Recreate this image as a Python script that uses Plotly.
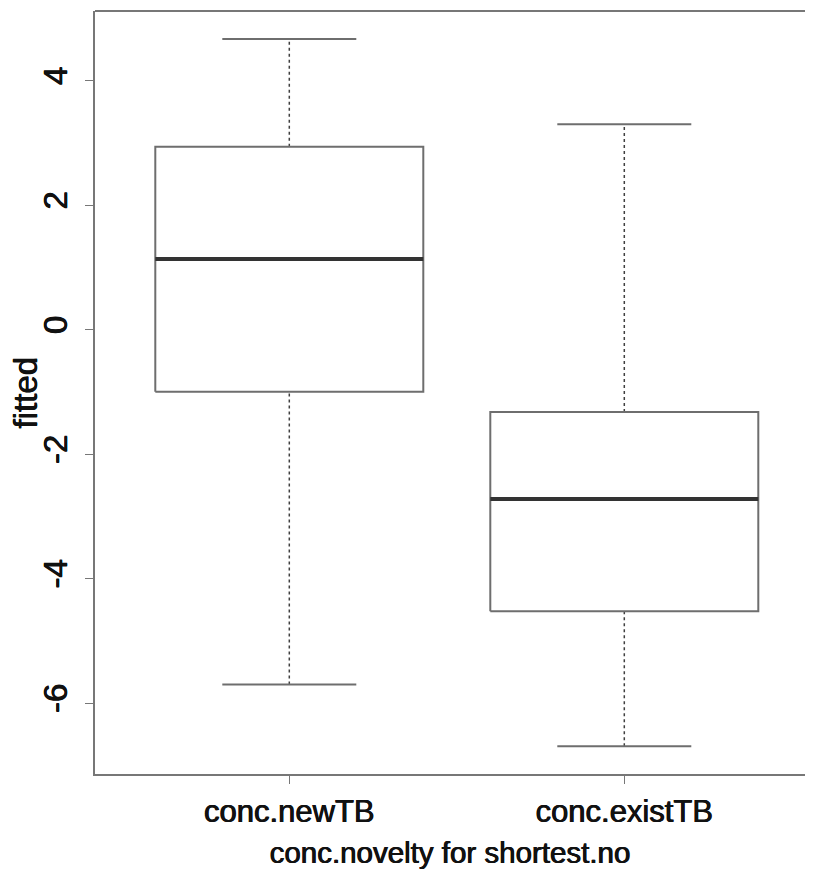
import plotly.graph_objects as go

categories = ["conc.newTB", "conc.existTB"]
lower_whisker = [-5.70, -6.69]
q1 = [-0.996, -4.52]
median = [1.135, -2.72]
q3 = [2.94, -1.32]
upper_whisker = [4.67, 3.30]
y_ticks = [-6, -4, -2, 0, 2, 4]

BOX_HALF = 0.4
CAP_HALF = 0.2
box_col = "#6e6e6e"
txt_col = "#111111"

fig = go.Figure()
for i, name in enumerate(categories):
    x = i + 1
    # whiskers (dashed)
    for a, b in [(q3[i], upper_whisker[i]), (lower_whisker[i], q1[i])]:
        fig.add_trace(go.Scatter(x=[x, x], y=[a, b], mode="lines",
                                 line=dict(color="#404040", width=1.5, dash="3px,3px"),
                                 showlegend=False, hoverinfo="skip"))
    # caps
    for v in (upper_whisker[i], lower_whisker[i]):
        fig.add_trace(go.Scatter(x=[x - CAP_HALF, x + CAP_HALF], y=[v, v], mode="lines",
                                 line=dict(color=box_col, width=2),
                                 showlegend=False, hoverinfo="skip"))
    # box
    fig.add_trace(go.Scatter(x=[x - BOX_HALF, x + BOX_HALF, x + BOX_HALF, x - BOX_HALF, x - BOX_HALF],
                             y=[q1[i], q1[i], q3[i], q3[i], q1[i]], mode="lines",
                             line=dict(color=box_col, width=2),
                             showlegend=False, hoverinfo="skip"))
    # median
    fig.add_trace(go.Scatter(x=[x - BOX_HALF, x + BOX_HALF], y=[median[i], median[i]], mode="lines",
                             line=dict(color="#333333", width=4),
                             showlegend=False, hoverinfo="skip"))

fam = "Liberation Sans, Arial, sans-serif"
shadow = "0.45px 0 0 #111111, -0.45px 0 0 #111111"
xtick_font = dict(family=fam, size=31, color=txt_col, shadow=shadow)
xtitle_font = dict(family=fam, size=29.5, color=txt_col, shadow=shadow)
ytick_font = dict(family=fam, size=33, color=txt_col, shadow=shadow)
ytitle_font = dict(family=fam, size=33, color=txt_col, shadow=shadow)

W, H = 797, 861
L, T, B = 87, 3, 95
plot_w = W - L

fig.update_layout(
    template="none",
    width=W, height=H,
    margin=dict(l=L, r=0, t=T, b=B),
    plot_bgcolor="white", paper_bgcolor="white",
    font=xtick_font,
    xaxis=dict(range=[0.42, 0.42 + plot_w / 335], tickvals=[1, 2], ticktext=categories,
               showgrid=False, zeroline=False, showline=True, linecolor="#777777", linewidth=2,
               mirror=False, ticks="outside", ticklen=8, tickcolor="#777777", tickwidth=1,
               tickfont=xtick_font, ticklabelstandoff=1,
               title=dict(text="conc.novelty for shortest.no", font=xtitle_font, standoff=15)),
    yaxis=dict(range=[-7.136, 5.12], tickvals=y_ticks, ticktext=[str(t) for t in y_ticks],
               showgrid=False, zeroline=False, showline=True, linecolor="#777777", linewidth=2,
               mirror=False, ticks="outside", ticklen=8, tickcolor="#777777", tickwidth=1,
               tickangle=-90, tickfont=ytick_font, ticklabelstandoff=5),
    shapes=[dict(type="line", xref="paper", yref="paper", x0=0, x1=1.02, y0=1, y1=1,
                 line=dict(color="#777777", width=2))],
    annotations=[dict(text="fitted", xref="paper", yref="paper", x=0, y=0.5,
                      xshift=-70, xanchor="center", yanchor="middle", textangle=-90,
                      showarrow=False, font=ytitle_font)],
)

fig.write_html("out.html")
